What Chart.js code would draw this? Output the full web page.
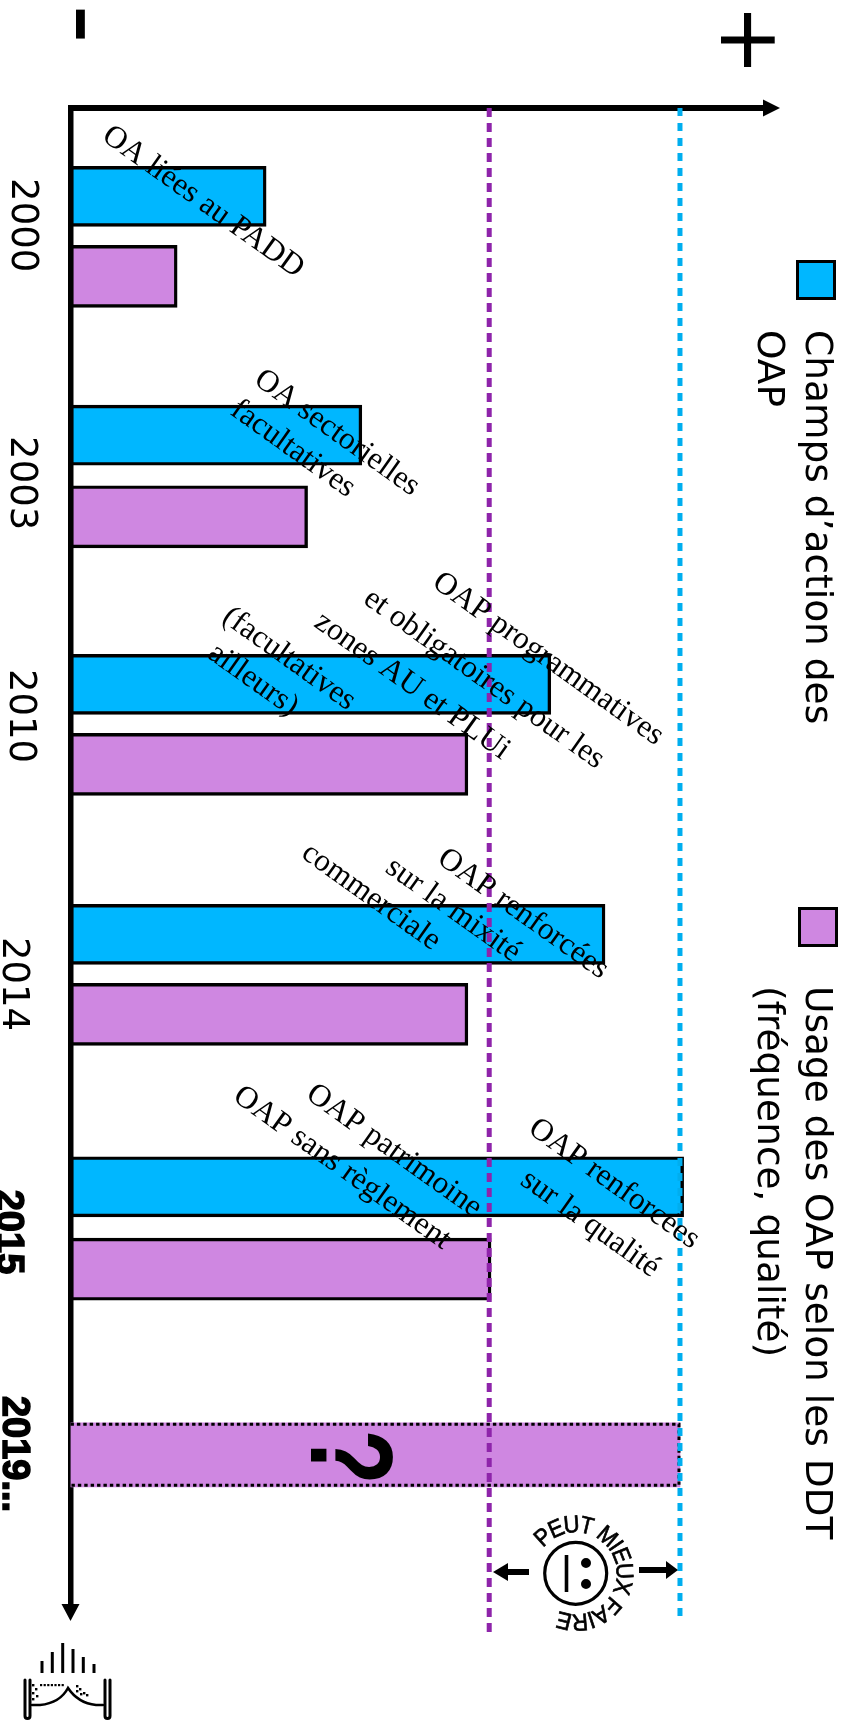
<!DOCTYPE html>
<html lang="fr">
<head>
<meta charset="utf-8">
<title>Champs d'action et usage des OAP</title>
<style>
html,body{margin:0;padding:0;background:#fff;overflow:hidden}
canvas{display:block}
</style>
<script src="https://cdn.jsdelivr.net/npm/chart.js@4"></script>
</head>
<body>
<canvas id="c" width="850" height="1729" style="width:850px;height:1729px"></canvas>
<script>
// ---- data (values on a 0-100 scale where 100 = blue target line) ----
const years = ['2000','2003','2010','2014','2015','2019...'];
const yearRows = [2.93,9.38,15.2,21.9,28.1,33.65];
const champsRows = [2.21,8.18,14.41,20.66,26.97];
const champsValues = [32.1,47.8,78.8,87.7,100.6];
const usageRows = [4.21,10.22,16.41,22.66,29.03];
const usageValues = [17.5,38.9,65.2,65.2,69];
const futureRows = [33.67];
const futureValues = [100];
const usageRef = 68.7;
const champsRef = 100;
const axisSigns = ['-','+'];
const signValues = [1.4,110.4];
const legendChamps = ['Champs d\u2019action des','OAP'];
const legendUsage = ['Usage des OAP selon les DDT','(fr\u00e9quence, qualit\u00e9)'];
const stampText = 'PEUT MIEUX FAIRE';

const BLUE='#00B7FF', PURPLE='#CF87E1', LINE_P='#8E24AA', LINE_B='#00AEEF';

// annotation lines: text + centre (px on the page)
const notes = [
 ['OA li\u00e9es au PADD',203,202],
 ['OA sectorielles',337,433],['facultatives',293,449],
 ['OAP programmatives',548,659],['et obligatoires pour les',484,679],['zones AU et PLUi',412,686],
 ['(facultatives',289,659],['ailleurs)',253,680],
 ['OAP renforc\u00e9es',523,914],['sur la mixit\u00e9',453,910],['commerciale',371,897],
 ['OAP patrimoine',394,1151],['OAP sans r\u00e8glement',342,1168],
 ['OAP renforc\u00e9es',614,1184],['sur la qualit\u00e9',590,1224]
];

function rotText(ctx,t,x,y,deg,font,align,sx,sy){
  ctx.save();ctx.translate(x,y);ctx.rotate(deg*Math.PI/180);
  if(sx)ctx.scale(sx,sy);
  ctx.font=font;ctx.fillStyle='#000';ctx.textAlign=align||'center';ctx.textBaseline='middle';
  ctx.fillText(t,0,0);ctx.restore();
}
function arrow(ctx,pts){
  ctx.beginPath();ctx.moveTo(pts[0][0],pts[0][1]);
  for(let i=1;i<pts.length;i++)ctx.lineTo(pts[i][0],pts[i][1]);
  ctx.closePath();ctx.fill();
}
function drawStamp(ctx){
  const cx=575.7,cy=1573.3;
  ctx.save();ctx.strokeStyle='#000';ctx.fillStyle='#000';
  ctx.lineWidth=3.2;ctx.beginPath();ctx.arc(cx,cy,31,0,Math.PI*2);ctx.stroke();
  ctx.beginPath();ctx.arc(586,1563,5,0,7);ctx.arc(586,1584,5,0,7);ctx.fill();
  ctx.lineWidth=3.6;ctx.beginPath();ctx.moveTo(566.5,1555);ctx.lineTo(566.5,1592);ctx.stroke();
  ctx.font='24px "Liberation Sans"';ctx.textAlign='center';ctx.textBaseline='alphabetic';
  ctx.lineWidth=0.7;
  const r=41,k=0.97;let a=-141*Math.PI/180;
  for(const ch of stampText){
    const w=ctx.measureText(ch).width/(r+8)*k;
    ctx.save();ctx.translate(cx,cy);ctx.rotate(a+w/2+Math.PI/2);ctx.scale(.92,1);
    ctx.fillText(ch,0,-r);ctx.strokeText(ch,0,-r);ctx.restore();
    a+=w;
  }
  ctx.restore();
  // arrows to both reference lines
  ctx.fillStyle='#000';
  ctx.fillRect(507,1569,22,6);arrow(ctx,[[493,1572],[508,1563],[508,1581]]);
  ctx.fillRect(639,1567,28,6);arrow(ctx,[[678,1570],[666,1561],[666,1579]]);
}
function drawBook(ctx){
  ctx.save();ctx.strokeStyle='#000';ctx.fillStyle='#000';ctx.lineCap='butt';
  ctx.lineWidth=3;
  const bx=[42,52.3,62.7,73,83.3,94],by=[1661,1652,1643,1649,1657,1664];
  bx.forEach((x,i)=>{ctx.beginPath();ctx.moveTo(x,by[i]);ctx.lineTo(x,1673);ctx.stroke();});
  ctx.lineCap='round';
  [[25,30],[105,110]].forEach(p=>{
    ctx.beginPath();ctx.moveTo(p[0],1680);ctx.lineTo(p[0],1716);
    ctx.arc((p[0]+p[1])/2,1716,(p[1]-p[0])/2,Math.PI,0,true);ctx.lineTo(p[1],1680);ctx.stroke();
  });
  ctx.lineWidth=2.6;ctx.beginPath();ctx.moveTo(32,1705);ctx.lineTo(40,1705);
  ctx.quadraticCurveTo(60,1703,68,1688);ctx.quadraticCurveTo(78,1703,96,1705);ctx.lineTo(103,1705);ctx.stroke();
  ctx.fillStyle='#000';
  for(let i=0;i<7;i++)ctx.fillRect(40+i*3.6,1684,2.2,2.2);
  [[32,1684],[35,1688],[32,1692],[36,1695],[32,1698],[76,1685],[79,1688],[76,1690],[83,1692],[80,1693],[86,1694]]
    .forEach(p=>ctx.fillRect(p[0],p[1],2.4,2.4));
  ctx.restore();
}

const decor = {
  id:'decor',
  afterLayout(chart){
    // fine placement of the rotated tick labels
    const sy=chart.scales.y,sx=chart.scales.x;
    const xs=[21.5,21,19.5,13,7.5,13.5];
    sy.getLabelItems(chart.chartArea).forEach((it,i)=>{
      it.options.translation=[xs[i],sy.getPixelForValue(yearRows[i])];
      it.options.textAlign='center';it.options.textBaseline='middle';it.textOffset=0;
    });
    const ys=[24,40];
    sx.getLabelItems(chart.chartArea).forEach((it,i)=>{
      it.options.translation=[sx.getPixelForValue(signValues[i]),ys[i]];
      it.options.textAlign='center';it.options.textBaseline='middle';it.textOffset=0;
    });
  },
  afterDatasetDraw(chart,args){
    if(args.index!==2)return;
    const el=chart.getDatasetMeta(2).data[0],ctx=chart.ctx;
    const p=el.getProps(['x','y','base','height'],true);
    const t=p.y-p.height/2+1.5,b=p.y+p.height/2-1.5,l=p.base,r=p.x-1;
    ctx.save();ctx.strokeStyle='#000';ctx.lineWidth=3;ctx.setLineDash([3.4,3]);
    ctx.beginPath();ctx.moveTo(l,t);ctx.lineTo(r,t);ctx.lineTo(r,b);ctx.lineTo(l,b);ctx.stroke();
    ctx.restore();
  },
  afterDatasetsDraw(chart){
    const ctx=chart.ctx,a=chart.chartArea;
    ctx.fillStyle='#000';
    // axis arrow heads
    arrow(ctx,[[a.right+15,a.top],[a.right-2,a.top-8.5],[a.right-2,a.top+8.5]]);
    arrow(ctx,[[a.left,a.bottom+11],[a.left-9,a.bottom-6],[a.left+9,a.bottom-6]]);
    // annotations
    notes.forEach(n=>rotText(ctx,n[0],n[1],n[2],35.5,'31.5px "Liberation Serif"'));
    // question mark
    rotText(ctx,'?',343,1457,90,'bold 108px "Liberation Sans"','center',0.84,1.09);
    // legend
    [[796,260,legendChamps,330],[798,907,legendUsage,986]].forEach(L=>{
      ctx.fillStyle=L[1]<500?BLUE:PURPLE;ctx.strokeStyle='#000';ctx.lineWidth=3;
      ctx.fillRect(L[0]+1.5,L[1]+1.5,37,37);ctx.strokeRect(L[0]+1.5,L[1]+1.5,37,37);
      rotText(ctx,L[2][0],816,L[3],90,'37.5px "DejaVu Sans"','left');
      rotText(ctx,L[2][1],768,L[3],90,'37.5px "DejaVu Sans"','left');
    });
    drawStamp(ctx);
    drawBook(ctx);
  }
};

new Chart(document.getElementById('c'),{
  type:'bar',
  data:{datasets:[
    {label:'Champs d\u2019action des OAP',data:champsRows.map((r,i)=>({x:champsValues[i],y:r})),
     backgroundColor:BLUE,borderColor:'#000',borderWidth:3.4,borderSkipped:false,grouped:false,barThickness:60,order:2},
    {label:'Usage des OAP selon les DDT (fr\u00e9quence, qualit\u00e9)',data:usageRows.map((r,i)=>({x:usageValues[i],y:r})),
     backgroundColor:PURPLE,borderColor:'#000',borderWidth:3.4,borderSkipped:false,grouped:false,barThickness:62,order:2},
    {label:'2019...',data:futureRows.map((r,i)=>({x:futureValues[i],y:r})),
     backgroundColor:PURPLE,borderWidth:0,grouped:false,barThickness:64,order:2},
    {type:'line',label:'Usage actuel',data:[{x:usageRef,y:0},{x:usageRef,y:38.13}],indexAxis:'y',
     borderColor:LINE_P,borderWidth:5,borderDash:[9,6],pointRadius:0,clip:false,order:1},
    {type:'line',label:'Champs actuel',data:[{x:champsRef,y:0},{x:champsRef,y:37.75}],indexAxis:'y',
     borderColor:LINE_B,borderWidth:5,borderDash:[8,7],pointRadius:0,clip:false,order:1}
  ]},
  options:{
    indexAxis:'y',responsive:false,animation:false,devicePixelRatio:1,
    layout:{autoPadding:false,padding:{left:0,top:0,right:85,bottom:119}},
    plugins:{legend:{display:false},tooltip:{enabled:false}},
    scales:{
      x:{type:'linear',position:'top',min:0,max:113.95,
         grid:{display:false},border:{color:'#000',width:6},
         afterFit:s=>{s.height=108;},
         afterBuildTicks:s=>{s.ticks=signValues.map(v=>({value:v}));},
         ticks:{autoSkip:false,minRotation:-90,maxRotation:-90,color:'#000',
           callback:(v,i)=>axisSigns[i],
           font:c=>({family:'DejaVu Sans',size:c.index===0?110:86})}},
      y:{type:'linear',position:'left',reverse:true,offset:false,min:0,max:37.55,
         grid:{display:false},border:{color:'#000',width:5.5},
         afterFit:s=>{s.width=70.5;},
         afterBuildTicks:s=>{s.ticks=yearRows.map(v=>({value:v}));},
         ticks:{autoSkip:false,minRotation:-90,maxRotation:-90,color:'#000',
           callback:(v,i)=>years[i],
           textStrokeColor:'#000',textStrokeWidth:c=>c.index>3?1.5:0,
           font:c=>c.index>3?{family:'Liberation Sans',size:38,weight:'bold'}:{family:'DejaVu Sans',size:37}}}
    }
  },
  plugins:[decor]
});
</script>
</body>
</html>
